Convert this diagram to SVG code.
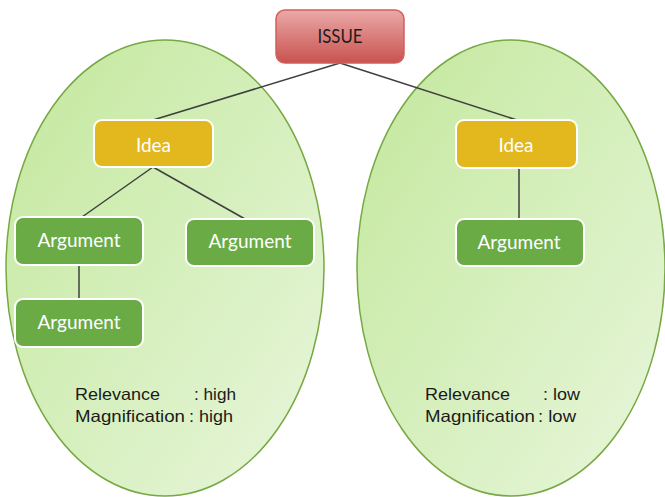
<svg xmlns="http://www.w3.org/2000/svg" width="665" height="497" viewBox="0 0 665 497">
  <defs>
    <linearGradient id="zone" x1="0" y1="0" x2="1" y2="1">
      <stop offset="0" stop-color="#c3e89c"/>
      <stop offset="1" stop-color="#e8f6dc"/>
    </linearGradient>
    <linearGradient id="issueFill" x1="0" y1="0" x2="0" y2="1">
      <stop offset="0" stop-color="#eaa9a8"/>
      <stop offset="1" stop-color="#c9524f"/>
    </linearGradient>
    <style>
      .zone { fill: url(#zone); stroke: #77a843; stroke-width: 1.5; }
      .link { stroke: #3f3f3f; stroke-width: 1.5; fill: none; }
      .issue { fill: url(#issueFill); stroke: #d0605c; stroke-width: 1.5; }
      .idea { fill: #e3b81e; stroke: #ffffff; stroke-width: 2; }
      .arg { fill: #6aab45; stroke: #ffffff; stroke-width: 2; }
      .lbl { font-family: Lato, "Open Sans", "Liberation Sans", sans-serif; font-size: 20px; fill: #ffffff; text-anchor: middle; }
      .dark { fill: #1c1c1c; }
      .note { font-family: "Liberation Sans", Arial, sans-serif; font-size: 16.5px; fill: #1a1a1a; }
    </style>
  </defs>

  <!-- two option zones -->
  <g id="zones">
    <ellipse id="zone-left" class="zone" cx="165" cy="268" rx="159" ry="228"/>
    <ellipse id="zone-right" class="zone" cx="511" cy="268" rx="154" ry="228"/>
  </g>

  <!-- connectors -->
  <g id="connectors">
    <line class="link" x1="340" y1="63" x2="153" y2="120"/>
    <line class="link" x1="340" y1="63" x2="517" y2="120"/>
    <line class="link" x1="153" y1="167" x2="82" y2="217"/>
    <line class="link" x1="153" y1="167" x2="245" y2="219"/>
    <line class="link" x1="79" y1="265" x2="79" y2="299"/>
    <line class="link" x1="519" y1="168" x2="519" y2="219"/>
  </g>

  <g id="issue">
    <rect class="issue" x="276" y="10" width="128" height="53" rx="9"/>
    <text class="lbl dark" x="340" y="43" textLength="45" lengthAdjust="spacingAndGlyphs">ISSUE</text>
  </g>

  <g id="idea-left">
    <rect class="idea" x="94" y="120" width="119" height="47" rx="8"/>
    <text class="lbl" x="153.5" y="152" textLength="35" lengthAdjust="spacingAndGlyphs">Idea</text>
  </g>

  <g id="idea-right">
    <rect class="idea" x="456" y="120" width="121" height="48" rx="8"/>
    <text class="lbl" x="516" y="152" textLength="35" lengthAdjust="spacingAndGlyphs">Idea</text>
  </g>

  <g id="argument-1">
    <rect class="arg" x="15" y="217" width="128" height="48" rx="8"/>
    <text class="lbl" x="79" y="247" textLength="83" lengthAdjust="spacingAndGlyphs">Argument</text>
  </g>

  <g id="argument-2">
    <rect class="arg" x="186" y="219" width="128" height="47" rx="8"/>
    <text class="lbl" x="250" y="248" textLength="83" lengthAdjust="spacingAndGlyphs">Argument</text>
  </g>

  <g id="argument-3">
    <rect class="arg" x="15" y="299" width="128" height="48" rx="8"/>
    <text class="lbl" x="79" y="329" textLength="83" lengthAdjust="spacingAndGlyphs">Argument</text>
  </g>

  <g id="argument-4">
    <rect class="arg" x="456" y="219" width="128" height="47" rx="8"/>
    <text class="lbl" x="519" y="249" textLength="83" lengthAdjust="spacingAndGlyphs">Argument</text>
  </g>

  <!-- ratings -->
  <g id="rating-left">
    <text class="note" y="400"><tspan x="75" textLength="85" lengthAdjust="spacingAndGlyphs">Relevance</tspan><tspan x="194" textLength="42" lengthAdjust="spacingAndGlyphs">: high</tspan></text>
    <text class="note" y="422"><tspan x="75" textLength="110" lengthAdjust="spacingAndGlyphs">Magnification</tspan><tspan x="189" textLength="44" lengthAdjust="spacingAndGlyphs">: high</tspan></text>
  </g>

  <g id="rating-right">
    <text class="note" y="400"><tspan x="425" textLength="85" lengthAdjust="spacingAndGlyphs">Relevance</tspan><tspan x="543" textLength="37" lengthAdjust="spacingAndGlyphs">: low</tspan></text>
    <text class="note" y="422"><tspan x="425" textLength="110" lengthAdjust="spacingAndGlyphs">Magnification</tspan><tspan x="538" textLength="38" lengthAdjust="spacingAndGlyphs">: low</tspan></text>
  </g>
</svg>
